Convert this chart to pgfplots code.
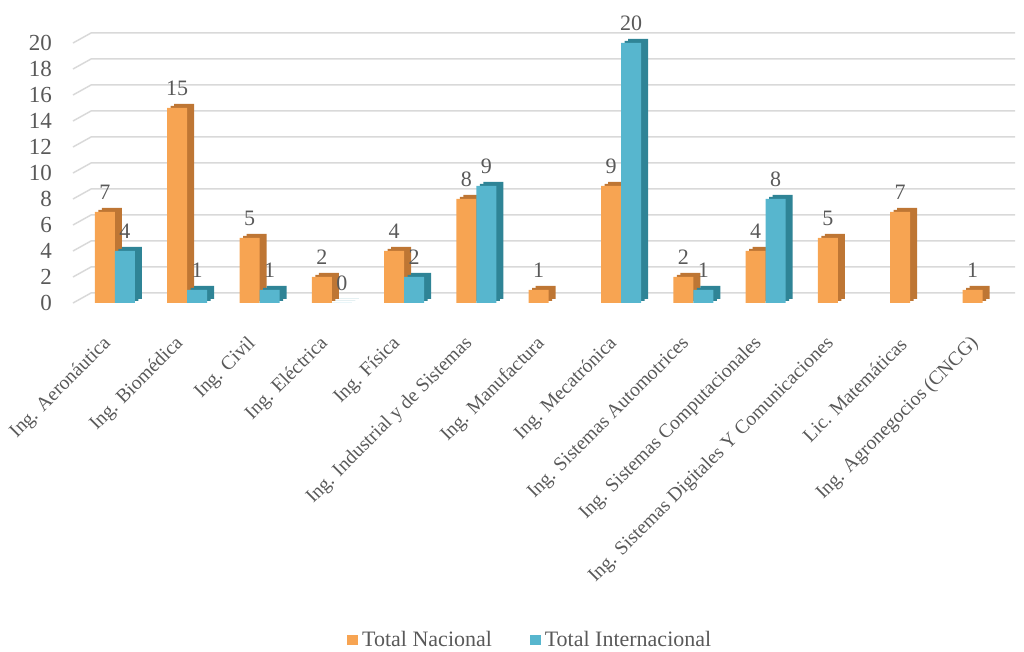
\documentclass[border=0pt]{standalone}
\usepackage{pgfplots}
\usepackage{pgfplotstable}
\pgfplotsset{compat=1.18}
\usepackage{fontspec}
\setmainfont{Liberation Serif}
\definecolor{txt}{HTML}{595959}
\definecolor{gridc}{HTML}{D9D9D9}
\definecolor{orF}{HTML}{F7A452}
\definecolor{orD}{HTML}{BE7634}
\definecolor{blF}{HTML}{57B6CE}
\definecolor{blD}{HTML}{2F8496}
\pgfplotstableread{
x y
0 7
1 15
2 5
3 2
4 4
5 8
6 1
7 9
8 2
9 4
10 5
11 7
12 1
}\nacional
\pgfplotstableread{
x y
0 4
1 1
2 1
3 0
4 2
5 9
7 20
8 1
9 8
}\internacional
\begin{document}
\begin{tikzpicture}
\useasboundingbox (-36.5pt,-174.5pt) rectangle (475.5pt,151.5pt);
\begin{axis}[
  at={(0,0)}, anchor=south west,
  scale only axis, width=462pt, height=130pt,
  xmin=-0.58, xmax=12.2, ymin=0, ymax=20,
  clip=false,
  axis line style={draw=none},
  major tick length=0pt,
  ytick={0,2,4,6,8,10,12,14,16,18,20},
  xtick={0,1,2,3,4,5,6,7,8,9,10,11,12},
  xticklabels={Ing. Aeronáutica, Ing. Biomédica, Ing. Civil, Ing. Eléctrica, Ing. Física, Ing. Industrial y de Sistemas, Ing. Manufactura, Ing. Mecatrónica, Ing. Sistemas Automotrices, Ing. Sistemas Computacionales, Ing. Sistemas Digitales Y Comunicaciones, Lic. Matemáticas, Ing. Agronegocios (CNCG)},
  /pgf/number format/assume math mode=true,
  tick label style={text=txt},
  yticklabel style={font=\fontsize{11.5}{13}\selectfont, xshift=-7pt},
  xticklabel style={font=\fontsize{9.8}{12}\selectfont, yshift=-16.5pt, xshift=-1pt, rotate=45, anchor=east},
  legend style={at={(0.496,-1.296)}, anchor=center, draw=none, fill=none, legend columns=2,
    font=\fontsize{11}{13}\selectfont, text=txt,
    /tikz/every even column/.append style={column sep=17pt}},
  legend image code/.code={\draw[#1,draw=none] (0pt,-2.7pt) rectangle (5.4pt,2.7pt);},
  nodes near coords style={font=\fontsize{11}{13}\selectfont, text=txt, yshift=2.5pt},
]
\pgfplotsinvokeforeach{0,2,4,6,8,10,12,14,16,18,20}{
  \draw[gridc, line width=0.75pt] (axis cs:-0.58,#1) -- ++(9pt,5pt) -- ([shift={(9pt,5pt)}]axis cs:12.2,#1);
}
\addplot[ybar, bar width=10pt, bar shift=-5pt, fill=orD, draw=none, xshift=3.5pt, yshift=2pt, forget plot] table[x=x,y=y]{\nacional};
\addplot[ybar, bar width=10pt, bar shift=-5pt, fill=orD, draw=none, xshift=1.75pt, yshift=1pt, forget plot] table[x=x,y=y]{\nacional};
\addplot[ybar, bar width=10pt, bar shift=-5pt, fill=orF, draw=none, nodes near coords,
  every node near coord/.append style={xshift=-5pt}] table[x=x,y=y]{\nacional};
\addlegendentry{Total Nacional}
\addplot[ybar, bar width=10pt, bar shift=5pt, fill=blD, draw=none, xshift=3.5pt, yshift=2pt, forget plot] table[x=x,y=y]{\internacional};
\addplot[ybar, bar width=10pt, bar shift=5pt, fill=blD, draw=none, xshift=1.75pt, yshift=1pt, forget plot] table[x=x,y=y]{\internacional};
\addplot[ybar, bar width=10pt, bar shift=5pt, fill=blF, draw=none, nodes near coords,
  every node near coord/.append style={xshift=5pt}] table[x=x,y=y]{\internacional};
\addlegendentry{Total Internacional}
\end{axis}
\end{tikzpicture}
\end{document}
